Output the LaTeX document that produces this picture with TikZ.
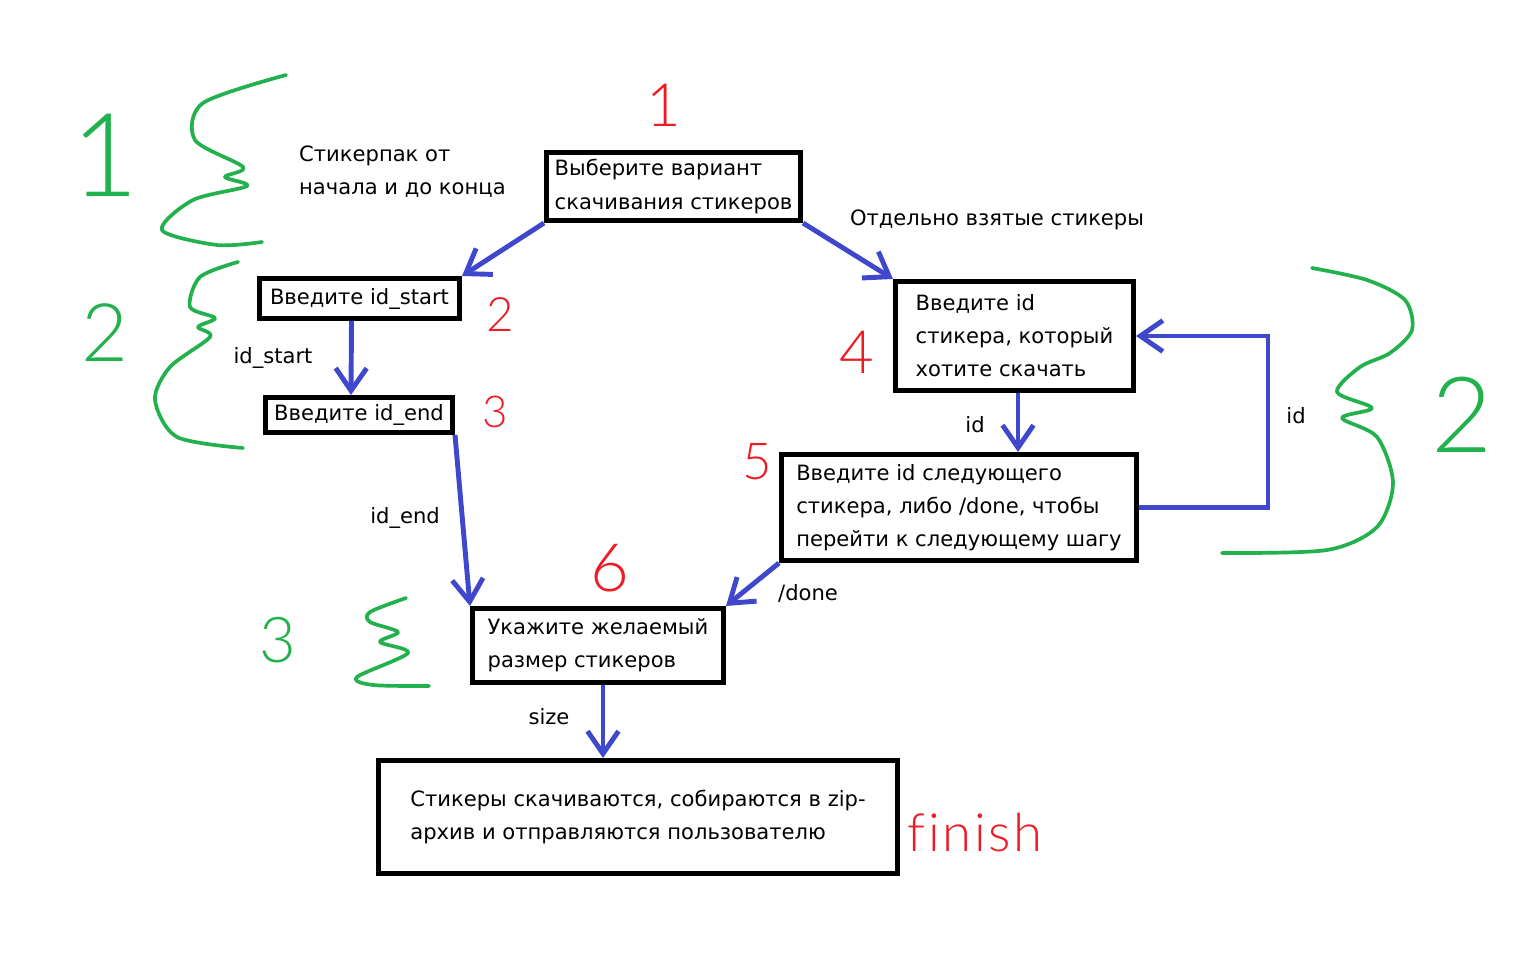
\documentclass[tikz,border=0pt]{standalone}
\usepackage{fontspec}
\setmainfont{DejaVu Sans}
\newfontfamily\markfont{Lato}[UprightFont=* Light, Ligatures=NoCommon]
\usetikzlibrary{arrows.meta, calc}
\definecolor{paintblue}{RGB}{63,72,204}
\definecolor{paintred}{RGB}{237,28,36}
\definecolor{paintgreen}{RGB}{34,177,76}
\tikzset{
>={Straight Barb[length=4.5mm,width=6.2mm]},
every node/.append style={font=\fontsize{12}{18.8}\selectfont},
box/.style={draw, line width=2.6pt, align=left, inner sep=0pt},
link/.style={->, draw=paintblue, line width=2.8pt},
brace/.style={draw=paintgreen, line width=2.1pt, line cap=round, line join=round},
redmark/.style={text=paintred},
greenmark/.style={text=paintgreen},
}

\begin{document}
\begin{tikzpicture}[x=0.02cm, y=-0.02cm]
            \useasboundingbox (0,0) rectangle (1518,956);

            % Steps
            \node[box, minimum width=5.09cm, minimum height=1.37cm] (1) at (673.5,186.5) {Выберите вариант\\скачивания стикеров};
            \node[box, minimum width=4.01cm, minimum height=0.81cm] (2) at (359.5,298.5) {Введите id\_start};
            \node[box, minimum width=3.75cm, minimum height=0.71cm] (3) at (359,415) {Введите id\_end};
            \node[box, minimum width=4.77cm, minimum height=2.19cm] (4) at (1014.5,336) {Введите id\\стикера, который\\хотите скачать};
            \node[box, minimum width=7.11cm, minimum height=2.13cm] (5) at (959,507.5) {Введите id следующего\\стикера, либо /done, чтобы\\перейти к следующему шагу};
            \node[box, minimum width=5.03cm, minimum height=1.49cm] (6) at (598,645.5) {Укажите желаемый\\размер стикеров};
            \node[box, minimum width=10.39cm, minimum height=2.27cm] (F) at (638,817) {Стикеры скачиваются, собираются в zip-\\архив и отправляются пользователю};

            % Transitions from 1
            \draw[link] (1.south west) -- (2.north east);
            \draw[link] (1.south east) -- (4.north west);
            \node (pack) at (293,172) [anchor=west, align=left] {Стикерпак от\\начала и до конца};
            \node (single) at (997,220) {Отдельно взятые стикеры};

            % Transitions from 2 and 3
            \draw[link] ([xshift=-0.16cm]2.south) -- ([xshift=-0.16cm]3.north);
            \node (idstart) at (273,358) {id\_start};
            \draw[link] (3.south east) -- (6.north west);
            \node (idend) at (405,518) {id\_end};

            % Transitions from 4 and 5
            \draw[link] ([xshift=0.07cm]4.south) -- ([xshift=0.07cm]4.south |- 5.north);
            \node (id) at (975,425) {id};
            \draw[link] (5.east) -- ++(129,0) |- (4.east);
            \node (idloop) at (1296,416) {id};
            \draw[link] (5.south west) -- (6.north east);
            \node (done) at (808,593) {/done};

            % Transitions from 6
            \draw[link] ([xshift=0.1cm]6.south) -- ([xshift=0.1cm]6.south |- F.north);
            \node (size) at (549,717) {size};

            % Step numbers
            \node[redmark, font=\markfont\fontsize{34}{34}\selectfont] (r1) at (664,105) {1};
            \node[redmark, font=\markfont\fontsize{27}{27}\selectfont] (r2) at (500,315) {2};
            \node[redmark, font=\markfont\fontsize{25}{25}\selectfont] (r3) at (495,412) {3};
            \node[redmark, font=\markfont\fontsize{34}{34}\selectfont] (r4) at (857,352) {4};
            \node[redmark, font=\markfont\fontsize{29}{29}\selectfont] (r5) at (757,462) {5};
            \node[redmark, font=\markfont\fontsize{38}{38}\selectfont] (r6) at (610,568) {6};
            \node[redmark, font=\markfont\addfontfeatures{LetterSpace=5}\fontsize{30}{30}\selectfont] (rf) at (975,833) {finish};

            % Braces
            \draw[brace] plot[smooth] coordinates {(286,75) (203,103) (195,140) (243,167) (225,177) (247,186) (193,200) (162,230) (217,245) (262,242)};
            \draw[brace] plot[smooth] coordinates {(238,262) (200,277) (190,307) (215,318) (198,327) (210,337) (170,367) (155,400) (177,437) (243,448)};
            \draw[brace] plot[smooth] coordinates {(406,598) (370,612) (370,622) (398,632) (380,642) (408,653) (357,677) (373,685) (429,686)};
            \draw[brace] plot[smooth] coordinates {(1312,268) (1367,280) (1405,300) (1412,330) (1390,353) (1360,367) (1337,392) (1372,408) (1342,418) (1377,437) (1393,483) (1377,527) (1327,550) (1222,553)};
            \node[greenmark, font=\markfont\fontsize{66}{66}\selectfont] (g1) at (105,155) {1};
            \node[greenmark, font=\markfont\fontsize{46}{46}\selectfont] (g2) at (105,333) {2};
            \node[greenmark, font=\markfont\fontsize{36}{36}\selectfont] (g3) at (278,640) {3};
            \node[greenmark, font=\markfont\fontsize{60}{60}\selectfont] (g4) at (1462,415) {2};
     \end{tikzpicture}
\end{document}
